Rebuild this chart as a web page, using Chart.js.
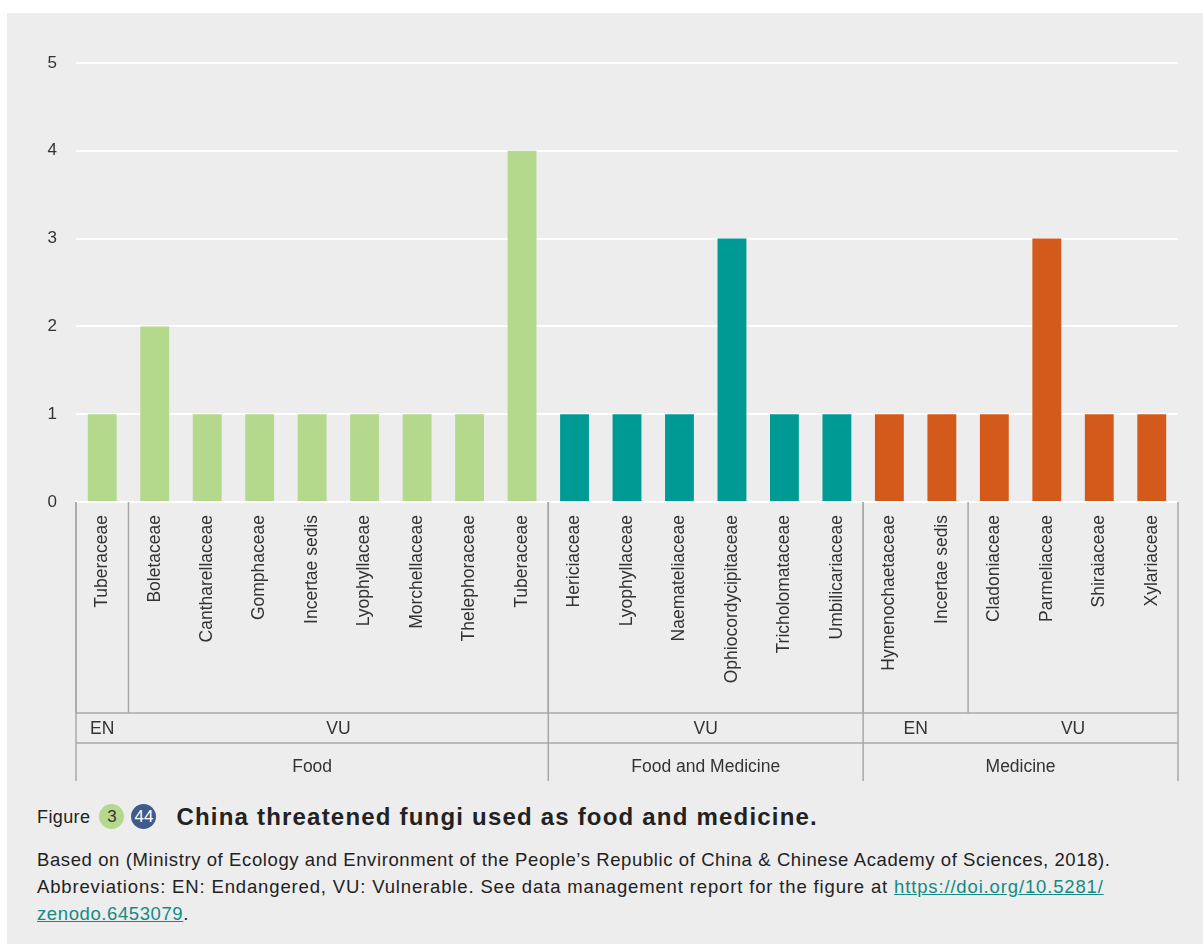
<!DOCTYPE html>
<html>
<head>
<meta charset="utf-8">
<script src="https://cdn.jsdelivr.net/npm/chart.js@4.4.1/dist/chart.umd.min.js"></script>
<style>
  html, body { margin: 0; padding: 0; background: #ffffff; }
  body { width: 1203px; height: 944px; position: relative; overflow: hidden; font-family: "Liberation Sans", Arial, Helvetica, sans-serif; }
  #panel { position: absolute; left: 7px; top: 13px; width: 1196px; height: 931px; background: #ededed; }
  #wrap { position: absolute; left: 0; top: 0; width: 1203px; height: 800px; }
  #cap { position: absolute; left: 37px; top: 800px; color: #222; }
  #title { position: absolute; left: 0; top: 0; white-space: nowrap; height: 32px; line-height: 32px; }
  #title .fig { font-size: 18px; letter-spacing: 0.4px; vertical-align: middle; }
  .badge { display: inline-block; border-radius: 50%; text-align: center; font-size: 17px; vertical-align: middle; }
  .b1 { width: 25px; height: 25px; line-height: 25px; background: #b4d88c; color: #333; margin-left: 9px; }
  .b2 { width: 25px; height: 25px; line-height: 25px; background: #3e5b8b; color: #fff; margin-left: 7px; }
  #title .t { font-weight: bold; font-size: 24px; letter-spacing: 1.2px; margin-left: 20px; vertical-align: middle; color: #222; }
  #desc { position: absolute; left: 0; top: 46px; white-space: nowrap; font-size: 18.5px; letter-spacing: 0.6px; line-height: 27px; color: #222; }
  #desc .l2 { letter-spacing: 0.85px; }
  #desc a { color: #138a84; text-decoration: underline; }
</style>
</head>
<body>
<div id="panel"></div>
<div id="wrap"><canvas id="c"></canvas></div>
<div id="cap">
  <div id="title"><span class="fig">Figure</span><span class="badge b1">3</span><span class="badge b2">44</span><span class="t">China threatened fungi used as food and medicine.</span></div>
  <div id="desc">Based on (Ministry of Ecology and Environment of the People’s Republic of China &amp; Chinese Academy of Sciences, 2018).<br><span class="l2">Abbreviations: EN: Endangered, VU: Vulnerable. See data management report for the figure at <a>https://doi.org/10.5281/</a></span><br><a>zenodo.6453079</a>.</div>
</div>
<script>
// ---- data ----
const categories = ["Tuberaceae","Boletaceae","Cantharellaceae","Gomphaceae","Incertae sedis","Lyophyllaceae","Morchellaceae","Thelephoraceae","Tuberaceae",
  "Hericiaceae","Lyophyllaceae","Naemateliaceae","Ophiocordycipitaceae","Tricholomataceae","Umbilicariaceae",
  "Hymenochaetaceae","Incertae sedis","Cladoniaceae","Parmeliaceae","Shiraiaceae","Xylariaceae"];
const values = [1,2,1,1,1,1,1,1,4, 1,1,1,3,1,1, 1,1,1,3,1,1];
const status = ["EN","VU","VU","VU","VU","VU","VU","VU","VU", "VU","VU","VU","VU","VU","VU", "EN","EN","VU","VU","VU","VU"];
const usage = ["Food","Food","Food","Food","Food","Food","Food","Food","Food",
  "Food and Medicine","Food and Medicine","Food and Medicine","Food and Medicine","Food and Medicine","Food and Medicine",
  "Medicine","Medicine","Medicine","Medicine","Medicine","Medicine"];
const usageColors = {"Food":"#b4d88c","Food and Medicine":"#009a94","Medicine":"#d35a1a"};
const yTicks = [0,1,2,3,4,5];

// spans of consecutive equal keys
function spans(keys){
  const out=[]; let s=0;
  for(let i=1;i<=keys.length;i++){
    if(i===keys.length || keys[i]!==keys[s]){ out.push({label:keys[s].split("|")[0], start:s, end:i-1}); s=i; }
  }
  return out;
}
const useSpans = spans(usage);
const statusSpans = spans(status.map((s,i)=>s+"|"+usage[i]));

const FONT = "'Liberation Sans', Arial, Helvetica, sans-serif";
const LINE = "#a8a8a8";
const ROW1 = 713, ROW2 = 743, AXBOT = 781;

const groupPlugin = {
  id: 'groups',
  afterDraw(chart){
    const ctx = chart.ctx, x = chart.scales.x, ca = chart.chartArea;
    const top = ca.bottom;
    const bound = i => i<=0 ? ca.left : (i>=categories.length ? ca.right : (x.getPixelForValue(i-1)+x.getPixelForValue(i))/2);
    ctx.save();
    ctx.strokeStyle = LINE; ctx.lineWidth = 1.5;
    const vline=(px,y0,y1)=>{ ctx.beginPath(); ctx.moveTo(px,y0); ctx.lineTo(px,y1); ctx.stroke(); };
    [ROW1, ROW2].forEach(y=>{ ctx.beginPath(); ctx.moveTo(ca.left,y); ctx.lineTo(ca.right,y); ctx.stroke(); });
    statusSpans.forEach(s=>{ vline(bound(s.start), top, ROW1); });
    useSpans.forEach(s=>{ vline(bound(s.start), top, AXBOT); });
    vline(ca.right, top, AXBOT);
    ctx.fillStyle = "#333"; ctx.font = "17.5px " + FONT; ctx.textAlign = "center"; ctx.textBaseline = "middle";
    statusSpans.forEach(s=>{ ctx.fillText(s.label, (bound(s.start)+bound(s.end+1))/2, (ROW1+ROW2)/2+1); });
    useSpans.forEach(s=>{ ctx.fillText(s.label, (bound(s.start)+bound(s.end+1))/2, (ROW2+AXBOT)/2+5); });
    ctx.restore();
  }
};

new Chart(document.getElementById('c'), {
  type: 'bar',
  data: {
    labels: categories,
    datasets: [{
      data: values,
      backgroundColor: usage.map(u=>usageColors[u]),
      barPercentage: 0.55,
      categoryPercentage: 1.0
    }]
  },
  options: {
    responsive: true, maintainAspectRatio: false, animation: false,
    layout: { padding: { left: 0, right: 25, top: 63, bottom: 19 } },
    plugins: { legend: { display: false }, tooltip: { enabled: false } },
    scales: {
      x: {
        grid: { display: false, drawTicks: false },
        border: { display: false },
        ticks: { autoSkip: false, minRotation: 90, maxRotation: 90, padding: 13, color: "#333", font: { family: FONT, size: 17.5 } },
        afterFit(s){ s.height = 279; }
      },
      y: {
        min: 0, max: 5,
        afterBuildTicks(s){ s.ticks = yTicks.map(v=>({value:v})); },
        grid: { color: "#ffffff", lineWidth: 2, drawTicks: false },
        border: { display: false },
        ticks: { padding: 19, color: "#333", font: { family: FONT, size: 17 } },
        afterFit(s){ s.width = 76; }
      }
    }
  },
  plugins: [groupPlugin]
});
</script>
</body>
</html>
